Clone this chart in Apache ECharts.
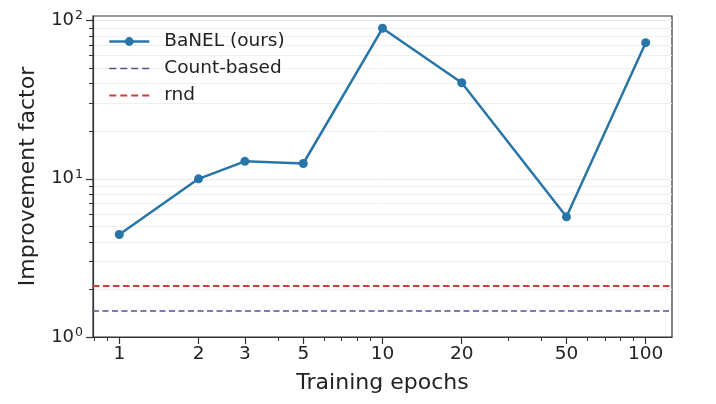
<!DOCTYPE html>
<html>
<head>
<meta charset="utf-8">
<script src="https://cdn.jsdelivr.net/npm/echarts@6/dist/echarts.min.js"></script>
<style>
  html, body { margin: 0; padding: 0; background: #fff; }
  #chart { width: 716px; height: 404px; }
</style>
</head>
<body>
<div id="chart"></div>
<script>
// Data
var epochs = [1, 2, 3, 5, 10, 20, 50, 100];
var banelValues = [4.45, 10, 12.9, 12.5, 89.5, 40.5, 5.75, 72.6];
var countBasedValue = 1.46;
var rndValue = 2.1;

// Tick values
var xMajorTicks = [1, 2, 3, 5, 10, 20, 50, 100];
var xMinorTicks = [0.8, 0.9, 4, 6, 7, 8, 9, 30, 40, 60, 70, 80, 90];
var yMajorTicks = [1, 10, 100];
var yMinorTicks = [2, 3, 4, 5, 6, 7, 8, 9, 20, 30, 40, 50, 60, 70, 80, 90];

var fontFamily = 'DejaVu Sans, sans-serif';
var axisColor = '#333';
var gridColor = '#ebebeb';
var blue = '#2876a8';
var purple = '#5c4d94';
var red = '#c8413f';

var chart = echarts.init(document.getElementById('chart'));

chart.setOption({
    animation: false,
    textStyle: { fontFamily: fontFamily },

    grid: {
        left: 93,
        right: 44,
        top: 16,
        bottom: 67,
        show: true,
        borderColor: axisColor,
        borderWidth: 1.2
    },

    legend: {
        orient: 'vertical',
        left: 108,
        top: 32,
        padding: 0,
        itemWidth: 40,
        itemHeight: 11,
        itemGap: 8,
        textStyle: {
            fontSize: 18.5,
            color: '#222',
            padding: [0, 0, 0, 10]
        },
        data: [
            { name: 'BaNEL (ours)', lineStyle: { width: 2.5 } },
            { name: 'Count-based', itemStyle: { opacity: 0 }, lineStyle: { width: 1.5, type: [7, 4] } },
            { name: 'rnd', itemStyle: { opacity: 0 }, lineStyle: { width: 1.8, type: [7, 4] } }
        ]
    },

    xAxis: [{
        type: 'log',
        logBase: 10,
        min: Math.pow(10, -0.1),
        max: Math.pow(10, 2.1),
        name: 'Training epochs',
        nameLocation: 'middle',
        nameGap: 35,
        nameTextStyle: { fontSize: 22, color: '#222' },
        axisLine: { show: true, lineStyle: { color: axisColor, width: 1.2 } },
        axisTick: {
            show: true, inside: false, length: 7,
            customValues: xMajorTicks,
            lineStyle: { color: axisColor, width: 1.2 }
        },
        axisLabel: {
            customValues: xMajorTicks,
            fontSize: 18.5, color: '#222', margin: 8,
            formatter: function (v) { return String(Math.round(v)); }
        },
        splitLine: { show: false }
    }, {
        type: 'log',
        logBase: 10,
        min: Math.pow(10, -0.1),
        max: Math.pow(10, 2.1),
        position: 'bottom',
        axisLine: { show: false },
        axisTick: {
            show: true, length: 4,
            customValues: xMinorTicks,
            lineStyle: { color: axisColor, width: 1 }
        },
        axisLabel: { show: false },
        splitLine: { show: false }
    }],

    yAxis: [{
        type: 'log',
        logBase: 10,
        min: 1,
        max: 107,
        name: 'Improvement factor',
        nameLocation: 'middle',
        nameGap: 54,
        nameTextStyle: { fontSize: 22, color: '#222' },
        axisLine: { show: true, lineStyle: { color: axisColor, width: 1.2 } },
        axisTick: {
            show: true, length: 7,
            customValues: yMajorTicks,
            lineStyle: { color: axisColor, width: 1.2 }
        },
        axisLabel: {
            customValues: yMajorTicks,
            margin: 10,
            color: '#222',
            formatter: function (v) {
                return '{base|10}{sup|' + Math.round(Math.log10(v)) + '}';
            },
            rich: {
                base: { fontSize: 18, color: '#222', fontFamily: fontFamily, lineHeight: 20 },
                sup: { fontSize: 12.5, color: '#222', fontFamily: fontFamily, verticalAlign: 'top', padding: [0, 0, 9, 1] }
            }
        },
        splitLine: { show: true, lineStyle: { color: gridColor, width: 1 } }
    }, {
        type: 'log',
        logBase: 10,
        min: 1,
        max: 107,
        position: 'left',
        axisLine: { show: false },
        axisTick: {
            show: true, length: 4,
            customValues: yMinorTicks,
            lineStyle: { color: axisColor, width: 1 }
        },
        axisLabel: { show: false },
        splitLine: {
            show: true,
            lineStyle: { color: '#f0f0f0', width: 1 }
        }
    }],

    series: [
        {
            name: 'BaNEL (ours)',
            type: 'line',
            xAxisIndex: 0,
            yAxisIndex: 0,
            z: 5,
            data: epochs.map(function (e, i) { return [e, banelValues[i]]; }),
            symbol: 'circle',
            symbolSize: 9,
            lineStyle: { color: blue, width: 2.5 },
            itemStyle: { color: blue }
        },
        {
            name: 'Count-based',
            type: 'line',
            xAxisIndex: 0,
            yAxisIndex: 0,
            data: [],
            symbol: 'none',
            lineStyle: { color: purple, width: 1.5, type: [6, 3.5] },
            itemStyle: { color: purple },
            markLine: {
                silent: true,
                symbol: 'none',
                label: { show: false },
                lineStyle: { color: purple, width: 1.5, type: [6, 3.5] },
                data: [{ yAxis: countBasedValue }]
            }
        },
        {
            name: 'rnd',
            type: 'line',
            xAxisIndex: 0,
            yAxisIndex: 0,
            data: [],
            symbol: 'none',
            lineStyle: { color: red, width: 1.8, type: [6.5, 3.5] },
            itemStyle: { color: red },
            markLine: {
                silent: true,
                symbol: 'none',
                label: { show: false },
                lineStyle: { color: red, width: 1.8, type: [6.5, 3.5] },
                data: [{ yAxis: rndValue }]
            }
        }
    ]
});
</script>
</body>
</html>
